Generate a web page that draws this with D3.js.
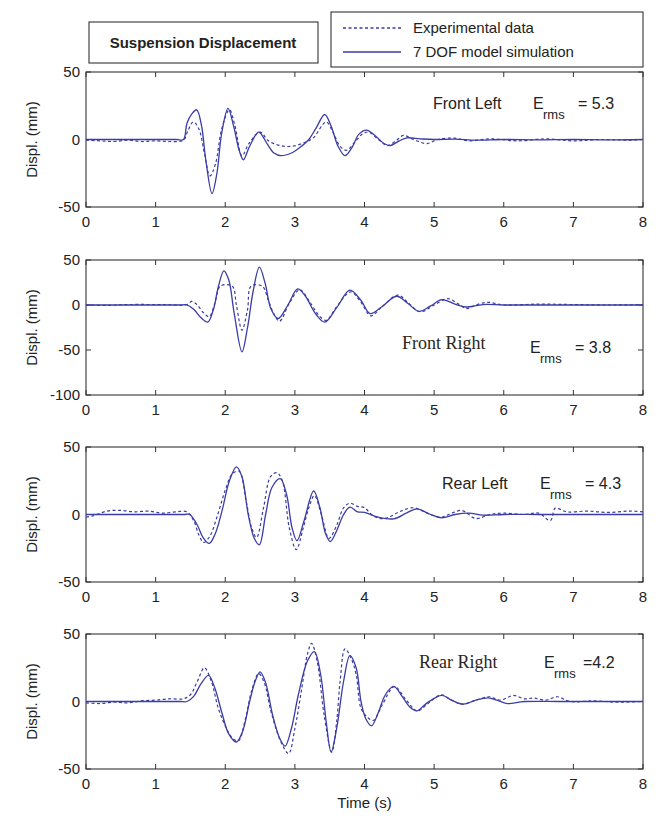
<!DOCTYPE html>
<html>
<head>
<meta charset="utf-8">
<script src="https://cdn.jsdelivr.net/npm/d3@7"></script>
<style>
  body { margin: 0; background: #fff; }
  svg text { font-family: "Liberation Sans", Arial, sans-serif; fill: #222; }
</style>
</head>
<body>
<div id="chart"></div>
<script>
/*
------------------------------
DATA: [time (s), displacement (mm)]
------------------------------
*/
const timeTicks = [0, 1, 2, 3, 4, 5, 6, 7, 8];
const displTicks = [-50, 0, 50];
const frontRightTicks = [-100, -50, 0, 50];

const frontLeftModel = [[0,0],[0.5,0],[1.0,0],[1.3,0],[1.40,0],[1.45,12],[1.52,19],[1.59,22],[1.66,10],[1.72,-15],[1.81,-40],[1.88,-25],[1.95,5],[2.04,23],[2.12,10],[2.2,-8],[2.26,-15],[2.35,-5],[2.48,5.5],[2.6,-3],[2.7,-10],[2.8,-12],[2.95,-10],[3.07,-6],[3.2,0],[3.3,8],[3.43,18.5],[3.52,10],[3.62,-5],[3.72,-12],[3.82,-6],[3.92,4],[4.03,7],[4.15,3],[4.28,-3],[4.37,-4.5],[4.5,-1],[4.61,1.2],[4.8,0.5],[5.0,0],[5.3,0.3],[5.6,-0.5],[6.0,0],[6.5,-0.3],[7.0,0],[7.5,-0.3],[8,0]];
const frontLeftExp = [[0,-0.5],[0.2,-1],[0.4,-1.5],[0.6,-0.5],[0.8,-1.5],[1.0,-1],[1.2,-1.5],[1.4,-0.5],[1.46,6],[1.54,13],[1.62,8],[1.7,-10],[1.78,-27],[1.86,-18],[1.95,8],[2.06,22],[2.14,10],[2.24,-12],[2.34,-3],[2.5,5.5],[2.62,-1],[2.79,-4.5],[2.97,-5],[3.15,-2],[3.26,1],[3.45,13],[3.55,5],[3.65,-5],[3.74,-8],[3.86,-2],[3.97,4],[4.06,5.5],[4.2,0],[4.33,-4.5],[4.45,-1],[4.56,3],[4.7,0],[4.9,-3],[5.05,0],[5.3,1],[5.5,-1],[5.8,0.5],[6.2,-1],[6.6,0.5],[7.0,-1],[7.4,0],[7.8,-0.5],[8,0]];

const frontRightModel = [[0,0],[0.5,0],[1.0,0],[1.35,0],[1.45,0],[1.55,-5],[1.65,-14],[1.75,-19],[1.83,-5],[1.9,20],[1.98,38],[2.05,28],[2.13,-10],[2.24,-52],[2.32,-25],[2.4,15],[2.49,42],[2.57,25],[2.66,-5],[2.76,-15],[2.9,0],[3.04,18],[3.15,10],[3.3,-10],[3.43,-19],[3.6,-3],[3.79,16.5],[3.95,5],[4.08,-9.5],[4.25,-2],[4.46,9.7],[4.62,2],[4.78,-7],[4.95,-1],[5.11,6],[5.3,1],[5.45,-2.2],[5.7,0.5],[6.0,0],[6.5,0],[7,0],[7.5,0],[8,0]];
const frontRightExp = [[0,0],[0.3,-0.5],[0.6,0.5],[1.0,0.5],[1.2,0.3],[1.45,0.5],[1.52,4],[1.6,0],[1.68,-8],[1.77,-13],[1.85,2],[1.93,21],[2.1,21],[2.16,0],[2.24,-28],[2.32,-5],[2.37,21],[2.53,21],[2.62,5],[2.7,-10],[2.78,-18],[2.92,2],[3.07,17],[3.2,5],[3.35,-12],[3.45,-17],[3.6,-2],[3.8,14.6],[3.95,3],[4.09,-12],[4.25,-2],[4.48,11],[4.62,3],[4.8,-7.5],[5.0,0],[5.2,7],[5.35,1],[5.47,-4],[5.6,0],[5.77,3],[6.0,0],[6.5,1],[7,0.5],[7.5,0],[8,0.5]];

const rearLeftModel = [[0,0],[0.5,0],[1.0,0],[1.4,0],[1.49,0],[1.6,-8],[1.68,-17],[1.77,-21.4],[1.85,-15],[1.95,2],[2.06,25],[2.16,35.3],[2.24,28],[2.33,0],[2.42,-18],[2.49,-22.4],[2.58,0],[2.67,20],[2.79,26.6],[2.88,15],[2.96,-10],[3.03,-19.4],[3.13,-5],[3.27,17.4],[3.36,5],[3.44,-14],[3.51,-20],[3.6,-12],[3.7,0],[3.79,5.5],[3.9,2],[4.0,1.5],[4.2,-2],[4.42,-3.2],[4.6,1],[4.75,4.2],[4.95,0],[5.11,-2.5],[5.3,0],[5.5,1],[5.7,-0.5],[6.0,0],[6.5,0],[7,0],[7.5,0],[8,0]];
const rearLeftExp = [[0,-2],[0.1,-1],[0.3,2.5],[0.5,3],[0.7,2],[0.9,2.5],[1.1,1],[1.3,2],[1.45,2],[1.55,-5],[1.62,-15],[1.69,-20.7],[1.78,-16],[1.88,-2],[2.0,18],[2.1,30],[2.2,32],[2.3,10],[2.38,-10],[2.45,-17],[2.55,5],[2.65,28],[2.74,31],[2.82,25],[2.92,-10],[3.02,-26],[3.12,-10],[3.2,5],[3.28,14],[3.38,0],[3.49,-17.7],[3.6,-8],[3.7,5],[3.79,8.4],[3.9,6],[4.0,5],[4.1,0],[4.23,-3],[4.35,-2],[4.5,2],[4.7,5],[4.9,1],[5.1,-2],[5.25,1],[5.4,3],[5.6,-3],[5.8,0],[6.0,1],[6.3,0],[6.5,1],[6.67,-4.5],[6.74,4.7],[6.9,2],[7.2,2.5],[7.5,1.5],[7.8,2.5],[8,2]];

const rearRightModel = [[0,0],[0.5,0],[1.0,0],[1.35,0],[1.45,0],[1.55,4],[1.65,13],[1.76,19.4],[1.85,10],[1.95,-8],[2.05,-24],[2.16,-30],[2.25,-22],[2.35,0],[2.43,15],[2.5,22],[2.58,14],[2.68,-10],[2.78,-27],[2.86,-33],[2.95,-20],[3.05,5],[3.18,30],[3.28,37],[3.37,20],[3.45,-15],[3.52,-37.5],[3.6,-20],[3.7,15],[3.79,34],[3.88,25],[3.95,0],[4.02,-13],[4.1,-18],[4.2,-8],[4.3,5],[4.42,11.2],[4.55,3],[4.65,-4],[4.75,-7],[4.9,-1],[5.11,4.5],[5.25,1],[5.42,-2],[5.6,1],[5.78,2.7],[5.9,1],[6.05,-1.5],[6.3,0],[6.8,0],[7.3,0],[8,0]];
const rearRightExp = [[0,-1],[0.2,-1.5],[0.4,-0.5],[0.6,-1],[0.8,0.5],[1.0,1],[1.2,2],[1.4,2],[1.5,5],[1.6,15],[1.7,25],[1.8,15],[1.9,-5],[2.0,-18],[2.1,-27],[2.19,-29],[2.28,-15],[2.38,8],[2.48,20.7],[2.56,14],[2.66,-8],[2.8,-30],[2.91,-38.5],[3.0,-20],[3.1,10],[3.18,35],[3.24,43],[3.32,30],[3.42,-10],[3.53,-37.5],[3.6,-15],[3.65,15],[3.72,39],[3.8,33],[3.88,20],[3.95,-5],[4.05,-12],[4.13,-14],[4.25,-3],[4.43,11],[4.6,1],[4.76,-7],[4.9,-2],[5.1,5],[5.25,1],[5.4,-2],[5.6,1],[5.8,3.5],[5.95,1],[6.14,4.5],[6.3,2],[6.43,2.5],[6.6,1],[6.77,3.5],[6.95,0],[7.3,0.5],[7.6,-0.5],[8,0]];

const legendLabels = ["Experimental data", "7 DOF model simulation"];
const titleText = "Suspension Displacement";

/*
------------------------------
LAYOUT
------------------------------
*/
const W = 659, H = 816;
const plotLeft = 86, plotRight = 643, plotH = 135;
const lineColor = "#3b3ca6";
const axisColor = "#333";

const panels = [
  { top: 72,  domain: [-50, 50],  ticks: displTicks,      model: frontLeftModel,  exp: frontLeftExp,
    name: "Front Left",  serif: false, nx: 433, ny: 37, ex: 533, ey: 37, val: "= 5.3", vx: 578 },
  { top: 260, domain: [-100, 50], ticks: frontRightTicks, model: frontRightModel, exp: frontRightExp,
    name: "Front Right", serif: true,  nx: 402, ny: 89, ex: 530, ey: 93, val: "= 3.8", vx: 575 },
  { top: 447, domain: [-50, 50],  ticks: displTicks,      model: rearLeftModel,   exp: rearLeftExp,
    name: "Rear Left",   serif: false, nx: 442, ny: 42, ex: 540, ey: 42, val: "= 4.3", vx: 585 },
  { top: 634, domain: [-50, 50],  ticks: displTicks,      model: rearRightModel,  exp: rearRightExp,
    name: "Rear Right",  serif: true,  nx: 419, ny: 34, ex: 544, ey: 34, val: "=4.2",  vx: 583 }
];

const svg = d3.select("#chart").append("svg")
  .attr("width", W).attr("height", H);

const x = d3.scaleLinear().domain([0, 8]).range([plotLeft, plotRight]);

panels.forEach((p, i) => {
  const y = d3.scaleLinear().domain(p.domain).range([p.top + plotH, p.top]);
  const g = svg.append("g");

  // clip so lines stay inside the box
  const clipId = "clip" + i;
  svg.append("clipPath").attr("id", clipId)
    .append("rect").attr("x", plotLeft).attr("y", p.top)
    .attr("width", plotRight - plotLeft).attr("height", plotH);

  // box
  g.append("rect")
    .attr("x", plotLeft).attr("y", p.top)
    .attr("width", plotRight - plotLeft).attr("height", plotH)
    .attr("fill", "none").attr("stroke", axisColor).attr("stroke-width", 1.1);

  // ticks on all four sides, pointing inward
  const tk = 5;
  g.selectAll(".xt").data(timeTicks).join("g").each(function (t) {
    const s = d3.select(this);
    s.append("line").attr("x1", x(t)).attr("x2", x(t))
      .attr("y1", p.top + plotH).attr("y2", p.top + plotH - tk).attr("stroke", axisColor);
    s.append("line").attr("x1", x(t)).attr("x2", x(t))
      .attr("y1", p.top).attr("y2", p.top + tk).attr("stroke", axisColor);
  });
  g.selectAll(".yt").data(p.ticks).join("g").each(function (v) {
    const s = d3.select(this);
    s.append("line").attr("x1", plotLeft).attr("x2", plotLeft + tk)
      .attr("y1", y(v)).attr("y2", y(v)).attr("stroke", axisColor);
    s.append("line").attr("x1", plotRight).attr("x2", plotRight - tk)
      .attr("y1", y(v)).attr("y2", y(v)).attr("stroke", axisColor);
  });

  // tick labels
  g.selectAll(".xl").data(timeTicks).join("text")
    .attr("x", d => x(d)).attr("y", p.top + plotH + 20)
    .attr("text-anchor", "middle").attr("font-size", 15)
    .text(d => d);
  g.selectAll(".yl").data(p.ticks).join("text")
    .attr("x", plotLeft - 6).attr("y", d => y(d)).attr("dy", "0.36em")
    .attr("text-anchor", "end").attr("font-size", 15)
    .text(d => d);

  // y label
  g.append("text")
    .attr("transform", "translate(37," + (p.top + plotH / 2) + ") rotate(-90)")
    .attr("text-anchor", "middle").attr("font-size", 15)
    .text("Displ. (mm)");

  // curves
  const line = d3.line()
    .x(d => x(d[0])).y(d => y(d[1]))
    .curve(d3.curveCatmullRom.alpha(0.5));

  g.append("path").datum(p.exp)
    .attr("clip-path", "url(#" + clipId + ")")
    .attr("d", line).attr("fill", "none")
    .attr("stroke", lineColor).attr("stroke-width", 1.2)
    .attr("stroke-dasharray", "3,2.5");
  g.append("path").datum(p.model)
    .attr("clip-path", "url(#" + clipId + ")")
    .attr("d", line).attr("fill", "none")
    .attr("stroke", lineColor).attr("stroke-width", 1.3);

  // annotations
  g.append("text")
    .attr("x", p.nx).attr("y", p.top + p.ny)
    .attr("font-size", p.serif ? 18 : 16)
    .style("font-family", p.serif ? "'Liberation Serif', 'Times New Roman', serif" : null)
    .style("fill", p.serif ? "#2b2620" : null)
    .text(p.name);
  const e = g.append("text").attr("font-size", 16);
  e.append("tspan").attr("x", p.ex).attr("y", p.top + p.ey).text("E");
  e.append("tspan").attr("x", p.ex + 10).attr("y", p.top + p.ey + 10)
    .attr("font-size", 13).text("rms");
  e.append("tspan").attr("x", p.vx).attr("y", p.top + p.ey).text(p.val);
});

// x axis title
svg.append("text")
  .attr("x", (plotLeft + plotRight) / 2).attr("y", 808)
  .attr("text-anchor", "middle").attr("font-size", 15)
  .text("Time (s)");

// title box
svg.append("rect").attr("x", 89).attr("y", 22).attr("width", 229).attr("height", 41)
  .attr("fill", "#fff").attr("stroke", axisColor).attr("stroke-width", 1.1);
svg.append("text").attr("x", 203).attr("y", 48)
  .attr("text-anchor", "middle").attr("font-size", 15).attr("font-weight", "bold")
  .text(titleText);

// legend box
svg.append("rect").attr("x", 331).attr("y", 12).attr("width", 312).attr("height", 55)
  .attr("fill", "#fff").attr("stroke", axisColor).attr("stroke-width", 1.1);
const legend = svg.append("g");
legendLabels.forEach((lab, i) => {
  const ly = 28 + i * 24;
  legend.append("line").attr("x1", 343).attr("x2", 401).attr("y1", ly).attr("y2", ly)
    .attr("stroke", lineColor).attr("stroke-width", 1.3)
    .attr("stroke-dasharray", i === 0 ? "3,2.5" : null);
  legend.append("text").attr("x", 413).attr("y", ly).attr("dy", "0.36em")
    .attr("font-size", 15).text(lab);
});
</script>
</body>
</html>
